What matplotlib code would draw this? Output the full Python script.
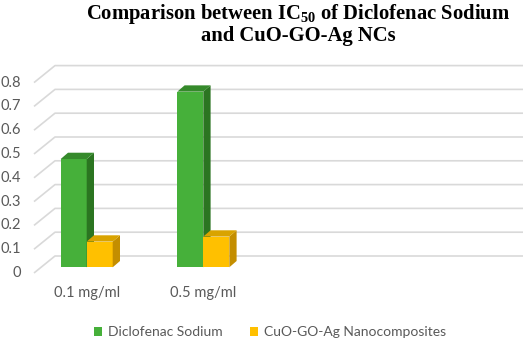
import matplotlib
matplotlib.use("Agg")
import matplotlib.pyplot as plt
from matplotlib.patches import Polygon, Patch

# ---------------- data ----------------
categories = ["0.1 mg/ml", "0.5 mg/ml"]
series_names = ["Diclofenac Sodium", "CuO-GO-Ag Nanocomposites"]
diclofenac = [0.455, 0.738]
cuo_go_ag = [0.108, 0.129]
y_ticks = [0, 0.1, 0.2, 0.3, 0.4, 0.5, 0.6, 0.7, 0.8]
y_tick_labels = ["0", "0.1", "0.2", "0.3", "0.4", "0.5", "0.6", "0.7", "0.8"]

# ---------------- style ----------------
W, H = 526, 341
face = ["#46B03A", "#FFC000"]
side = ["#2B7521", "#C48E00"]
top = ["#358A2B", "#D9A300"]
grid_c = "#D9D9D9"
txt_c = "#595959"

# layout (pixels)
x0_px = 86.7          # pixel x of first category centre (bar plane)
cat_px = 116.6        # pixels per category
zero_px = 267.3       # pixel y (from top) of value 0 in bar plane
unit_px = 238.0       # pixels per 1.0 value
bar_w = 26.0 / cat_px
depth_full = (21.0, 17.0)   # front-to-back floor offset in pixels
f_bar = 0.335               # bar front location as fraction of depth
bar_depth = (7.3, 6.3)      # bar depth offset (px)

plt.rcParams["mathtext.fontset"] = "custom"
plt.rcParams["mathtext.rm"] = "Liberation Serif:bold"
plt.rcParams["mathtext.default"] = "regular"

fig = plt.figure(figsize=(W / 100, H / 100), dpi=100)
ax = fig.add_axes([0, 0, 1, 1])
ax.set_xlim(-x0_px / cat_px, (W - x0_px) / cat_px)
ax.set_ylim(-(H - zero_px) / unit_px, zero_px / unit_px)
ax.axis("off")

def dx(px):
    return px / cat_px

def dy(px):
    return px / unit_px

# gridlines: oblique on left wall/floor + horizontal on back wall
front_off = (-f_bar * depth_full[0], -f_bar * depth_full[1])
back_off = ((1 - f_bar) * depth_full[0], (1 - f_bar) * depth_full[1])
left_front_px = 34.0
right_back_px = 523.0
for v, lab in zip(y_ticks, y_tick_labels):
    xf = dx(left_front_px - x0_px)
    xb = xf + dx(depth_full[0])
    yf = v + dy(front_off[1])
    yb = v + dy(back_off[1])
    ax.plot([xf, xb, dx(right_back_px - x0_px)], [yf, yb, yb],
            color=grid_c, lw=1.2, solid_capstyle="butt", zorder=1)
    ax.text(dx(21 - x0_px), yf, lab, ha="right", va="center",
            fontsize=10.5, color=txt_c, family="Lato")

# bars
ddx, ddy = dx(bar_depth[0]), dy(bar_depth[1])
for i, cat in enumerate(categories):
    for s, vals in enumerate([diclofenac, cuo_go_ag]):
        v = vals[i]
        xl = i - bar_w + s * bar_w
        xr = xl + bar_w
        ax.bar(xl, v, width=bar_w, align="edge", color=face[s],
               edgecolor="none", zorder=2 + i * 2 + s)
        ax.add_patch(Polygon([(xr, 0), (xr + ddx, ddy), (xr + ddx, v + ddy), (xr, v)],
                             closed=True, facecolor=side[s], edgecolor="none",
                             zorder=2 + i * 2 + s))
        ax.add_patch(Polygon([(xl, v), (xl + ddx, v + ddy), (xr + ddx, v + ddy), (xr, v)],
                             closed=True, facecolor=top[s], edgecolor="none",
                             zorder=2 + i * 2 + s))
    ax.text(i, dy(zero_px - 293), cat, ha="center", va="center",
            fontsize=10.5, color=txt_c, family="Lato")

# title
fig.text(298 / W, 1 - 14 / H, r"Comparison between IC$_{50}$ of Diclofenac Sodium",
         ha="center", va="center", fontsize=14.9, fontweight="bold",
         family="Liberation Serif", color="black")
fig.text(298 / W, 1 - 36 / H, "and CuO-GO-Ag NCs",
         ha="center", va="center", fontsize=14.9, fontweight="bold",
         family="Liberation Serif", color="black")

# legend
handles = [Patch(facecolor=face[0], edgecolor="none"),
           Patch(facecolor=face[1], edgecolor="none")]
leg = fig.legend(handles, series_names, loc="center",
                 bbox_to_anchor=(270 / W, 1 - 332 / H), ncol=2, frameon=False,
                 prop={"family": "Lato", "size": 10},
                 handlelength=0.6, handleheight=0.6, handletextpad=0.4,
                 columnspacing=2.0, borderpad=0, borderaxespad=0)
for t in leg.get_texts():
    t.set_color(txt_c)

fig.savefig("out.png", dpi=100)
